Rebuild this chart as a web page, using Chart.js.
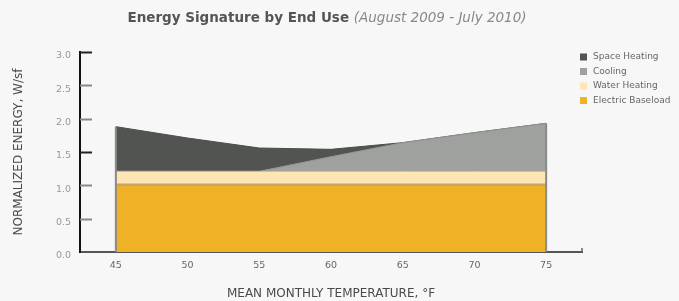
<!DOCTYPE html>
<html>
<head>
<meta charset="utf-8">
<script src="https://cdn.jsdelivr.net/npm/chart.js@4.4.0/dist/chart.umd.min.js"></script>
<style>
  body { margin: 0; background: #f8f7f7; }
  #wrap { width: 679px; height: 301px; position: relative; }
</style>
</head>
<body>
<div id="wrap"><canvas id="myChart"></canvas></div>
<script>
// mean monthly temperature, deg F
let temps = [45, 50, 55, 60, 65, 70, 75];
// normalized energy, W/sf (stacked, bottom to top)
let baseload = [1.01, 1.01, 1.01, 1.01, 1.01, 1.01, 1.01];
let waterHeating = [0.2, 0.2, 0.2, 0.2, 0.2, 0.2, 0.2];
let cooling = [0, 0, 0, 0.22, 0.43, 0.58, 0.72];
let spaceHeating = [0.67, 0.50, 0.35, 0.11, 0, 0, 0];
let yTicks = [0, 0.5, 1.0, 1.5, 2.0, 2.5, 3.0];

function pts(arr) {
    return arr.map((v, i) => ({ x: temps[i], y: v }));
}

const font = "'DejaVu Sans', sans-serif";

// title with bold + italic parts
const titlePlugin = {
    id: 'twoPartTitle',
    afterDraw(chart) {
        const ctx = chart.ctx;
        const a = 'Energy Signature by End Use ';
        const b = '(August 2009 - July 2010)';
        ctx.save();
        ctx.textBaseline = 'middle';
        ctx.font = 'bold 13.5px ' + font;
        const wa = ctx.measureText(a).width;
        ctx.font = 'italic 13.5px ' + font;
        const wb = ctx.measureText(b).width;
        let x = 327 - (wa + wb) / 2;
        ctx.font = 'bold 13.5px ' + font;
        ctx.fillStyle = '#555';
        ctx.fillText(a, x, 18);
        ctx.font = 'italic 13.5px ' + font;
        ctx.fillStyle = '#888';
        ctx.fillText(b, x + wa, 18);
        ctx.restore();
    }
};

// inner tick marks, edge lines, end tick and legend
const decorPlugin = {
    id: 'decor',
    afterDatasetsDraw(chart) {
        const ctx = chart.ctx;
        const ys = chart.scales.y, xs = chart.scales.x;
        ctx.save();
        // vertical edges at first and last temperature
        const top = chart.getDatasetMeta(chart.data.datasets.length - 1).data;
        ctx.strokeStyle = '#8a8a88';
        ctx.lineWidth = 2;
        [0, temps.length - 1].forEach(i => {
            const px = xs.getPixelForValue(temps[i]);
            ctx.beginPath();
            ctx.moveTo(px, ys.getPixelForValue(0));
            ctx.lineTo(px, top[i].y);
            ctx.stroke();
        });
        ctx.restore();
    },
    afterDraw(chart) {
        const ctx = chart.ctx;
        const ys = chart.scales.y;
        const area = chart.chartArea;
        ctx.save();
        yTicks.forEach(v => {
            if (v === 0) return;
            const py = Math.round(ys.getPixelForValue(v)) + 0.5;
            ctx.strokeStyle = (v === 3 || v === 1.5) ? '#222' : '#888';
            ctx.lineWidth = 2;
            ctx.beginPath();
            ctx.moveTo(area.left, py);
            ctx.lineTo(area.left + 12, py);
            ctx.stroke();
        });
        // small tick at right end of x axis
        ctx.strokeStyle = '#666';
        ctx.lineWidth = 1.5;
        ctx.beginPath();
        ctx.moveTo(area.right, area.bottom);
        ctx.lineTo(area.right, area.bottom - 4);
        ctx.stroke();

        // legend
        const ds = chart.data.datasets.slice().reverse();
        ctx.font = '9px ' + font;
        ctx.textBaseline = 'middle';
        ds.forEach((d, i) => {
            const cy = 57 + i * 14.5;
            ctx.fillStyle = d.backgroundColor;
            ctx.fillRect(580, cy - 3.5, 7, 7);
            ctx.fillStyle = '#666';
            ctx.fillText(d.label, 593, cy);
        });
        ctx.restore();
    }
};

let chart1 = new Chart(document.getElementById('myChart').getContext('2d'), {
    type: 'line',
    data: {
        datasets: [
            {
                label: 'Electric Baseload',
                data: pts(baseload),
                backgroundColor: '#efb126',
                borderColor: '#c6a56a',
                borderWidth: 2.5,
                fill: 'origin'
            },
            {
                label: 'Water Heating',
                data: pts(waterHeating),
                backgroundColor: '#fde5b4',
                borderColor: '#bdb8aa',
                borderWidth: 1,
                fill: '-1'
            },
            {
                label: 'Cooling',
                data: pts(cooling),
                backgroundColor: '#9ea19e',
                borderColor: '#8d908d',
                borderWidth: 1,
                fill: '-1'
            },
            {
                label: 'Space Heating',
                data: pts(spaceHeating),
                backgroundColor: '#515451',
                borderColor: '#4a4d4a',
                borderWidth: 1,
                fill: '-1'
            }
        ]
    },
    options: {
        responsive: true,
        maintainAspectRatio: false,
        animation: false,
        elements: { point: { radius: 0 }, line: { tension: 0 } },
        layout: { padding: { top: 52, right: 97, bottom: 0, left: 0 } },
        plugins: {
            legend: { display: false },
            tooltip: { enabled: false },
            title: { display: false }
        },
        scales: {
            x: {
                type: 'linear',
                min: 42.5,
                max: 77.5,
                afterBuildTicks: s => { s.ticks = temps.map(v => ({ value: v })); },
                afterFit: s => { s.height = 49; },
                grid: { display: false },
                border: { display: true, color: '#555', width: 2 },
                ticks: {
                    color: '#666',
                    padding: 0,
                    font: { family: font, size: 9.5 }
                },
                title: {
                    display: true,
                    text: 'MEAN MONTHLY TEMPERATURE, °F',
                    color: '#4a4a4a',
                    padding: { top: 0, bottom: 0 },
                    font: { family: font, size: 12 }
                }
            },
            y: {
                stacked: true,
                min: 0,
                max: 3,
                afterFit: s => { s.width = 80; },
                grid: { display: false },
                border: { display: true, color: '#111', width: 2 },
                ticks: {
                    stepSize: 0.5,
                    color: '#999',
                    padding: 1,
                    labelOffset: 4,
                    font: { family: font, size: 9.5 },
                    callback: v => v.toFixed(1)
                },
                title: {
                    display: true,
                    text: 'NORMALIZED ENERGY, W/sf',
                    color: '#4a4a4a',
                    padding: { top: 12, bottom: 0 },
                    font: { family: font, size: 12 }
                }
            }
        }
    },
    plugins: [titlePlugin, decorPlugin]
});
</script>
</body>
</html>
